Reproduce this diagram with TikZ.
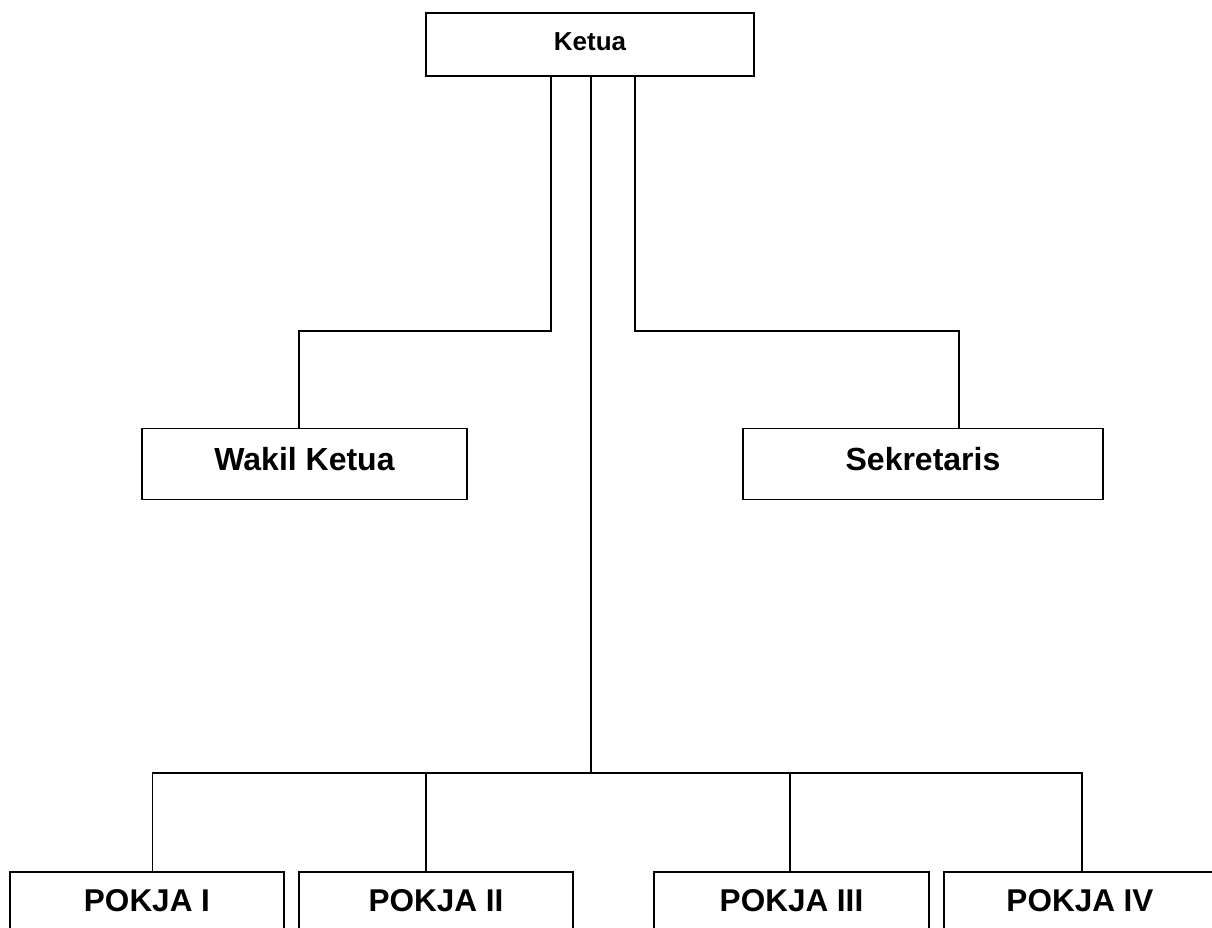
\documentclass[tikz,border=0pt]{standalone}
\usepackage{fontspec}
\setmainfont{Liberation Sans}
\begin{document}
\begin{tikzpicture}[x=1pt,y=-1pt,
  box/.style={draw=black,line width=1.8pt,inner sep=0pt,outer sep=0pt,align=center,text depth=0pt},
  fsmall/.style={font=\bfseries\fontsize{26}{30}\selectfont,text height=18.6pt},
  fbig/.style={font=\bfseries\fontsize{32}{36}\selectfont,text height=22.9pt},
  fpokja/.style={font=\bfseries\fontsize{31.5}{36}\selectfont,text height=22.5pt},
  conn/.style={draw=black,line width=1.8pt}]
\useasboundingbox (0,0) rectangle (1212,927);
\clip (0,0) rectangle (1212,927);
\fill[white] (0,0) rectangle (1212,927);
% boxes
\node[box,fsmall,minimum width=328pt,minimum height=63pt] (ketua) at (590,44.5) {\raisebox{3pt}{Ketua}};
\node[box,fbig,minimum width=325pt,minimum height=71pt] (wakil) at (304.5,464) {\raisebox{5pt}{Wakil Ketua}};
\node[box,fbig,minimum width=360pt,minimum height=71pt] (sekr) at (923,464) {\raisebox{5pt}{Sekretaris}};
\node[box,fpokja,minimum width=274pt,minimum height=80pt] (p1) at (147,912) {\raisebox{11.5pt}{POKJA I}};
\node[box,fpokja,minimum width=274pt,minimum height=80pt] (p2) at (436,912) {\raisebox{11.5pt}{POKJA II}};
\node[box,fpokja,minimum width=275pt,minimum height=80pt] (p3) at (791.5,912) {\raisebox{11.5pt}{POKJA III}};
\node[box,fpokja,minimum width=272pt,minimum height=80pt] (p4) at (1080,912) {\raisebox{11.5pt}{POKJA IV}};
% junction coordinates
\coordinate (wk) at (551,331);
\coordinate (wkd) at (299,331);
\coordinate (sk) at (635,331);
\coordinate (skd) at (959,331);
\coordinate (mid) at (591,773);
\coordinate (b1) at (152.5,773);
\coordinate (b2) at (426,773);
\coordinate (b3) at (790,773);
\coordinate (b4) at (1082,773);
% connectors
\draw[conn] (ketua.south -| wk) -- (wk) -- (wkd) -- (wkd |- wakil.north);
\draw[conn] (ketua.south -| sk) -- (sk) -- (skd) -- (skd |- sekr.north);
\draw[conn] (ketua.south -| mid) -- (mid);
\draw[conn] (b1 |- p1.north) -- (b1) -- (b4) -- (b4 |- p4.north);
\draw[conn] (b2) -- (b2 |- p2.north);
\draw[conn] (b3) -- (b3 |- p3.north);
\end{tikzpicture}
\end{document}
